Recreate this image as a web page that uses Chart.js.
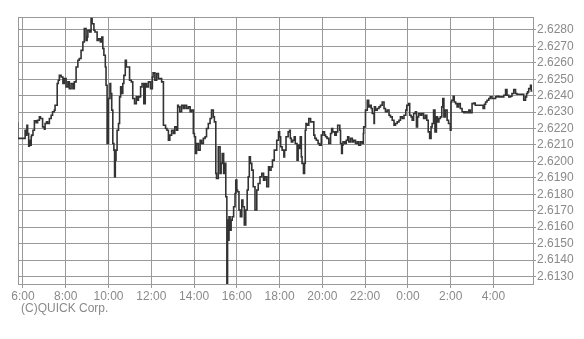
<!DOCTYPE html>
<html>
<head>
<meta charset="utf-8">
<script src="https://cdn.jsdelivr.net/npm/chart.js@4"></script>
<style>
    html, body { margin: 0; padding: 0; background: #fff; }
</style>
</head>
<body>
<canvas id="quote-chart" width="584" height="339"></canvas>
<script>
// minutes after 6:00 (one trading day, into the next morning)
var times = [
    -15, 6, 8, 11, 13, 16, 18, 21, 23, 24, 28, 32, 37, 41, 46, 49, 55, 60, 62, 66, 69, 74, 79, 83, 88, 90, 96, 99,
    102, 107, 112, 116, 121, 126, 130, 135, 140, 144, 149, 154, 158, 163, 168, 172, 177, 180, 182, 187, 191, 194, 199,
    202, 208, 212, 217, 221, 224, 227, 231, 233, 236, 240, 244, 246, 249, 252, 255, 257, 259, 261, 264, 268, 271, 274,
    277, 280, 283, 287, 290, 299, 304, 308, 313, 318, 320, 324, 330, 334, 339, 343, 347, 352, 358, 363,
    365, 370, 375, 380, 389, 394, 400, 404, 408, 412, 417, 422, 426, 431, 434, 436, 440, 445, 450, 454, 459, 464, 469,
    473, 478, 481, 484, 487, 492, 497, 501, 506, 511, 515, 520, 525, 529, 534, 537, 541, 543, 548, 553, 556, 559, 563,
    567, 569, 572, 574, 576, 578, 581, 584, 587, 591, 595, 597, 600, 602, 606, 610, 614, 617, 621, 625, 629, 632, 635,
    638, 642, 646, 651, 656, 660, 665, 670, 675, 679, 684, 689, 691, 696, 700, 705, 712, 717, 720,
    723, 727, 732, 734, 738, 744, 748, 750, 753, 757, 761, 764, 769, 772, 774, 778, 781, 783, 787, 790, 792, 794, 797,
    802, 807, 816, 819, 823, 828, 832, 837, 841, 846, 849, 853, 858, 863, 866, 869, 875, 879, 883, 889, 891, 894, 896,
    898, 903, 907, 911, 914, 919, 924, 928, 933, 938, 942, 947, 952, 955, 956, 961, 966, 970, 973, 977, 980, 985, 986,
    989, 994, 999, 1003, 1008, 1013, 1017, 1022, 1027, 1031, 1036, 1041, 1045, 1050, 1055, 1059, 1064, 1069, 1074, 1077,
    1082, 1085, 1089, 1092, 1096, 1101, 1104, 1107, 1110, 1115, 1119, 1124, 1129, 1133, 1137, 1141, 1145, 1148, 1152,
    1156, 1160, 1163, 1167, 1171, 1175, 1178, 1181, 1185, 1190, 1194, 1199, 1201, 1203, 1207, 1210, 1214, 1218, 1222,
    1227, 1232, 1237, 1241, 1246, 1251, 1255, 1260, 1265, 1269, 1291, 1295, 1298, 1302, 1307, 1311, 1316, 1326, 1330,
    1335, 1349, 1354, 1358, 1363, 1368, 1372, 1377, 1382, 1386, 1405, 1410, 1413, 1416, 1419, 1424, 1426, 1429
];
var prices = [
    2.62239, 2.62140, 2.62190, 2.62160, 2.62220, 2.62170, 2.62093, 2.62129, 2.62099, 2.62150, 2.62160, 2.62190, 2.62247,
    2.62235, 2.62251, 2.62271, 2.62261, 2.62210, 2.62196, 2.62231, 2.62241, 2.62231, 2.62261, 2.62281, 2.62302, 2.62312,
    2.62342, 2.62474, 2.62494, 2.62524, 2.62514, 2.62474, 2.62504, 2.62454, 2.62484, 2.62443, 2.62474, 2.62443, 2.62484,
    2.62575, 2.62616, 2.62626, 2.62676, 2.62727, 2.62808, 2.62737, 2.62757, 2.62798, 2.62788, 2.62869, 2.62838, 2.62798,
    2.62788, 2.62737, 2.62747, 2.62727, 2.62757, 2.62687, 2.62646, 2.62575, 2.62464, 2.62109, 2.62383, 2.62474, 2.62413,
    2.62312, 2.62109, 2.62069, 2.61907, 2.62008, 2.62069, 2.62190, 2.62231, 2.62393, 2.62454, 2.62413, 2.62474, 2.62524,
    2.62616, 2.62575, 2.62494, 2.62484, 2.62383, 2.62352, 2.62393, 2.62372, 2.62393, 2.62454, 2.62474, 2.62352, 2.62474,
    2.62454, 2.62484, 2.62443,
    2.62514, 2.62539, 2.62494, 2.62535, 2.62504, 2.62484, 2.62220, 2.62200, 2.62190, 2.62129, 2.62160, 2.62190, 2.62170,
    2.62210, 2.62190, 2.62342, 2.62332, 2.62302, 2.62342, 2.62322, 2.62342, 2.62322, 2.62332, 2.62302, 2.62312, 2.62170,
    2.62150, 2.62048, 2.62109, 2.62069, 2.62129, 2.62109, 2.62140, 2.62150, 2.62200, 2.62231, 2.62261, 2.62312, 2.62271,
    2.62241, 2.61927, 2.61896, 2.62089, 2.61927, 2.61988, 2.62048, 2.61927, 2.61988, 2.61785, 2.61258, 2.61643, 2.61521,
    2.61663, 2.61582, 2.61643, 2.61663, 2.61724, 2.61805, 2.61886, 2.61826, 2.61815, 2.61704, 2.61663, 2.61765, 2.61724,
    2.61613, 2.61704, 2.61826, 2.61907, 2.62028, 2.61988, 2.61947, 2.61846, 2.61704, 2.61826, 2.61866, 2.61907, 2.61927,
    2.61886, 2.61907, 2.61846, 2.61967, 2.61947, 2.61967, 2.62008, 2.62069, 2.62129, 2.62180,
    2.62150, 2.62089, 2.62069, 2.62028, 2.62069, 2.62150, 2.62180, 2.62190, 2.62140, 2.62119, 2.62129, 2.62150, 2.62109,
    2.62008, 2.62099, 2.62079, 2.62150, 2.62028, 2.61988, 2.61927, 2.61988, 2.62190, 2.62231, 2.62220, 2.62261, 2.62241,
    2.62160, 2.62140, 2.62129, 2.62109, 2.62099, 2.62160, 2.62180, 2.62160, 2.62150, 2.62140, 2.62109, 2.62170, 2.62200,
    2.62180, 2.62160, 2.62180, 2.62220, 2.62190, 2.62109, 2.62048, 2.62099, 2.62119, 2.62109, 2.62129, 2.62150, 2.62119,
    2.62140, 2.62119, 2.62129, 2.62109, 2.62119, 2.62099, 2.62119, 2.62109, 2.62170, 2.62210, 2.62312, 2.62372, 2.62332,
    2.62342, 2.62322, 2.62292, 2.62231, 2.62332, 2.62312, 2.62322, 2.62332, 2.62342, 2.62362, 2.62322, 2.62302, 2.62312,
    2.62281, 2.62271, 2.62251, 2.62220, 2.62231, 2.62241, 2.62251, 2.62271, 2.62261, 2.62281, 2.62312,
    2.62342, 2.62352, 2.62281, 2.62271, 2.62251, 2.62292, 2.62302, 2.62210, 2.62271, 2.62292, 2.62281, 2.62292, 2.62261,
    2.62281, 2.62251, 2.62180, 2.62140, 2.62210, 2.62231, 2.62312, 2.62180, 2.62271, 2.62241, 2.62261, 2.62271, 2.62332,
    2.62383, 2.62271, 2.62312, 2.62251, 2.62231, 2.62190, 2.62362, 2.62372, 2.62397, 2.62362, 2.62352, 2.62332, 2.62352,
    2.62322, 2.62302, 2.62296, 2.62302, 2.62296, 2.62312, 2.62296, 2.62352, 2.62356, 2.62342, 2.62322, 2.62348, 2.62362,
    2.62372, 2.62383, 2.62393, 2.62383, 2.62393, 2.62397, 2.62393, 2.62403, 2.62437, 2.62403, 2.62393, 2.62397, 2.62413,
    2.62437, 2.62413, 2.62409, 2.62372, 2.62393, 2.62413, 2.62423, 2.62443, 2.62464, 2.62429
];
var yTicks = [2.613, 2.614, 2.615, 2.616, 2.617, 2.618, 2.619, 2.620, 2.621, 2.622, 2.623, 2.624, 2.625, 2.626, 2.627, 2.628];
var xTicks = [0, 120, 240, 360, 480, 600, 720, 840, 960, 1080, 1200, 1320];
var xLabels = ["6:00", "8:00", "10:00", "12:00", "14:00", "16:00", "18:00", "20:00", "22:00", "0:00", "2:00", "4:00"];

var gridColor = "#999999";
var labelColor = "#8a8a8a";
var fontFamily = "'Liberation Sans', Arial, sans-serif";

var points = [];
for (var i = 0; i < times.length; i++) {
    points.push({ x: times[i], y: prices[i] });
}

// box around the plot + copyright line
var framePlugin = {
    id: "frame",
    beforeDatasetsDraw: function (chart) {
        var a = chart.chartArea;
        var ctx = chart.ctx;
        ctx.save();
        ctx.strokeStyle = gridColor;
        ctx.lineWidth = 1;
        ctx.strokeRect(Math.round(a.left) + 0.5, Math.round(a.top) + 0.5,
            Math.round(a.right - a.left), Math.round(a.bottom - a.top));
        ctx.restore();
    },
    afterDraw: function (chart) {
        var ctx = chart.ctx;
        ctx.save();
        ctx.fillStyle = labelColor;
        ctx.font = "12px " + fontFamily;
        ctx.textBaseline = "middle";
        ctx.fillText("(C)QUICK Corp.", 21, 309);
        ctx.restore();
    }
};

new Chart("quote-chart", {
    type: "line",
    data: {
        datasets: [
            {
                data: points,
                borderColor: "#333333",
                borderWidth: 1.6,
                pointRadius: 0,
                stepped: "after",
                fill: false,
            },
        ],
    },
    options: {
        responsive: false,
        animation: false,
        layout: { padding: { left: 18, top: 17, right: 0, bottom: 0 } },
        plugins: {
            legend: { display: false },
            tooltip: { enabled: false },
        },
        scales: {
            x: {
                type: "linear",
                min: -14,
                max: 1431,
                afterBuildTicks: function (scale) {
                    scale.ticks = xTicks.map(function (v) { return { value: v }; });
                },
                afterFit: function (scale) { scale.height = 55; },
                ticks: {
                    autoSkip: false,
                    maxRotation: 0,
                    padding: 1,
                    color: labelColor,
                    font: { family: fontFamily, size: 12 },
                    callback: function (value, index) { return xLabels[index]; },
                },
                grid: { color: gridColor, lineWidth: 1, tickLength: 4 },
                border: { display: false },
            },
            y: {
                position: "right",
                min: 2.61254,
                max: 2.62879,
                afterBuildTicks: function (scale) {
                    scale.ticks = yTicks.map(function (v) { return { value: v }; });
                },
                afterFit: function (scale) { scale.width = 51; },
                ticks: {
                    autoSkip: false,
                    padding: 1,
                    color: labelColor,
                    font: { family: fontFamily, size: 12 },
                    callback: function (value) { return value.toFixed(4); },
                },
                grid: { color: gridColor, lineWidth: 1, tickLength: 3 },
                border: { display: false },
            },
        },
    },
    plugins: [framePlugin],
});
</script>
</body>
</html>
